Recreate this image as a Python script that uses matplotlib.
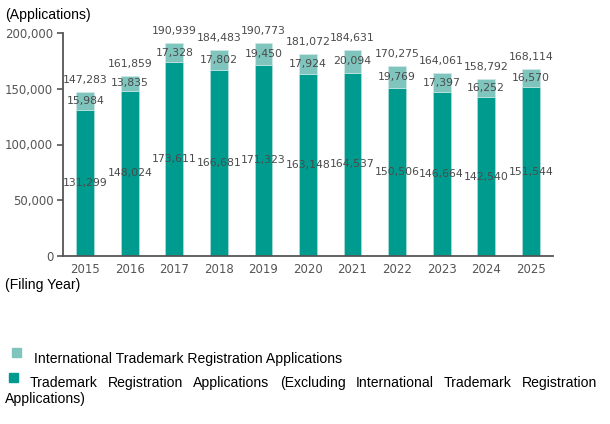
import matplotlib
matplotlib.use("Agg")
import matplotlib.pyplot as plt
from matplotlib.patches import Rectangle

years = ["2015", "2016", "2017", "2018", "2019", "2020", "2021", "2022", "2023", "2024", "2025"]
domestic = [131299, 148024, 173611, 166681, 171323, 163148, 164537, 150506, 146664, 142540, 151544]
international = [15984, 13835, 17328, 17802, 19450, 17924, 20094, 19769, 17397, 16252, 16570]
yticks = [0, 50000, 100000, 150000, 200000]

DARK = "#009B8F"
LIGHT = "#7FC4BD"
W, H = 610, 424

fig = plt.figure(figsize=(W / 100, H / 100), dpi=100)
ax = fig.add_axes([63 / W, (H - 256) / H, (553 - 63) / W, (256 - 33) / H])

x = list(range(len(years)))
totals = [d + i for d, i in zip(domestic, international)]
ax.bar(x, domestic, width=0.40, color=DARK, edgecolor="#bfe3df", linewidth=0.4, zorder=2)
ax.bar(x, international, bottom=domestic, width=0.40, color=LIGHT, edgecolor="#d5ecea",
       linewidth=0.4, zorder=2)

lab_kw = dict(ha="center", va="center", fontsize=7.8, color="#4a4a4a", family="DejaVu Sans",
              clip_on=False, zorder=3)
for xi, d, i, t in zip(x, domestic, international, totals):
    ax.text(xi, d / 2, f"{d:,}", **lab_kw)
    ax.text(xi, d + i / 2, f"{i:,}", **lab_kw)
    ax.annotate(f"{t:,}", (xi, t), xytext=(0, 8.5), textcoords="offset points", **lab_kw)

ax.set_xlim(-0.5, len(years) - 0.5)
ax.set_ylim(0, 200000)
ax.set_yticks(yticks)
ax.set_yticklabels([f"{v:,}" for v in yticks])
ax.set_xticks(x)
ax.set_xticklabels(years)
for s in ["top", "right"]:
    ax.spines[s].set_visible(False)
for s in ["left", "bottom"]:
    ax.spines[s].set_color("#555555")
    ax.spines[s].set_linewidth(1.3)
ax.tick_params(axis="y", length=4, width=1.2, color="#555555", labelsize=8.5, labelcolor="#555555", pad=3)
ax.tick_params(axis="x", length=0, labelsize=8.5, labelcolor="#555555", pad=5)

tfont = dict(family="Liberation Sans", fontsize=10.1, color="black")
fig.text(5 / W, 1 - 15 / H, "(Applications)", ha="left", va="center", **tfont)
fig.text(5 / W, 1 - 285 / H, "(Filing Year)", ha="left", va="center", **tfont)

# legend
fig.patches.append(Rectangle((12 / W, 1 - 357 / H), 9 / W, 9 / H, transform=fig.transFigure,
                             color=LIGHT, figure=fig))
fig.patches.append(Rectangle((9 / W, 1 - 382 / H), 9 / W, 9 / H, transform=fig.transFigure,
                             color=DARK, figure=fig))
fig.text(34 / W, 1 - 359 / H, "International Trademark Registration Applications",
         ha="left", va="center", **tfont)

line2 = "Trademark Registration Applications (Excluding International Trademark Registration"
words = line2.split()
x0, x1 = 30, 597
fig.canvas.draw()
r = fig.canvas.get_renderer()
tobjs = [fig.text(0, 1 - 383 / H, w, ha="left", va="center", **tfont) for w in words]
widths = [t.get_window_extent(r).width for t in tobjs]
gap = (x1 - x0 - sum(widths)) / (len(words) - 1)
pos = x0
for t, wd in zip(tobjs, widths):
    t.set_x(pos / W)
    pos += wd + gap
fig.text(5 / W, 1 - 399 / H, "Applications)", ha="left", va="center", **tfont)

fig.savefig("out.png", dpi=100)
